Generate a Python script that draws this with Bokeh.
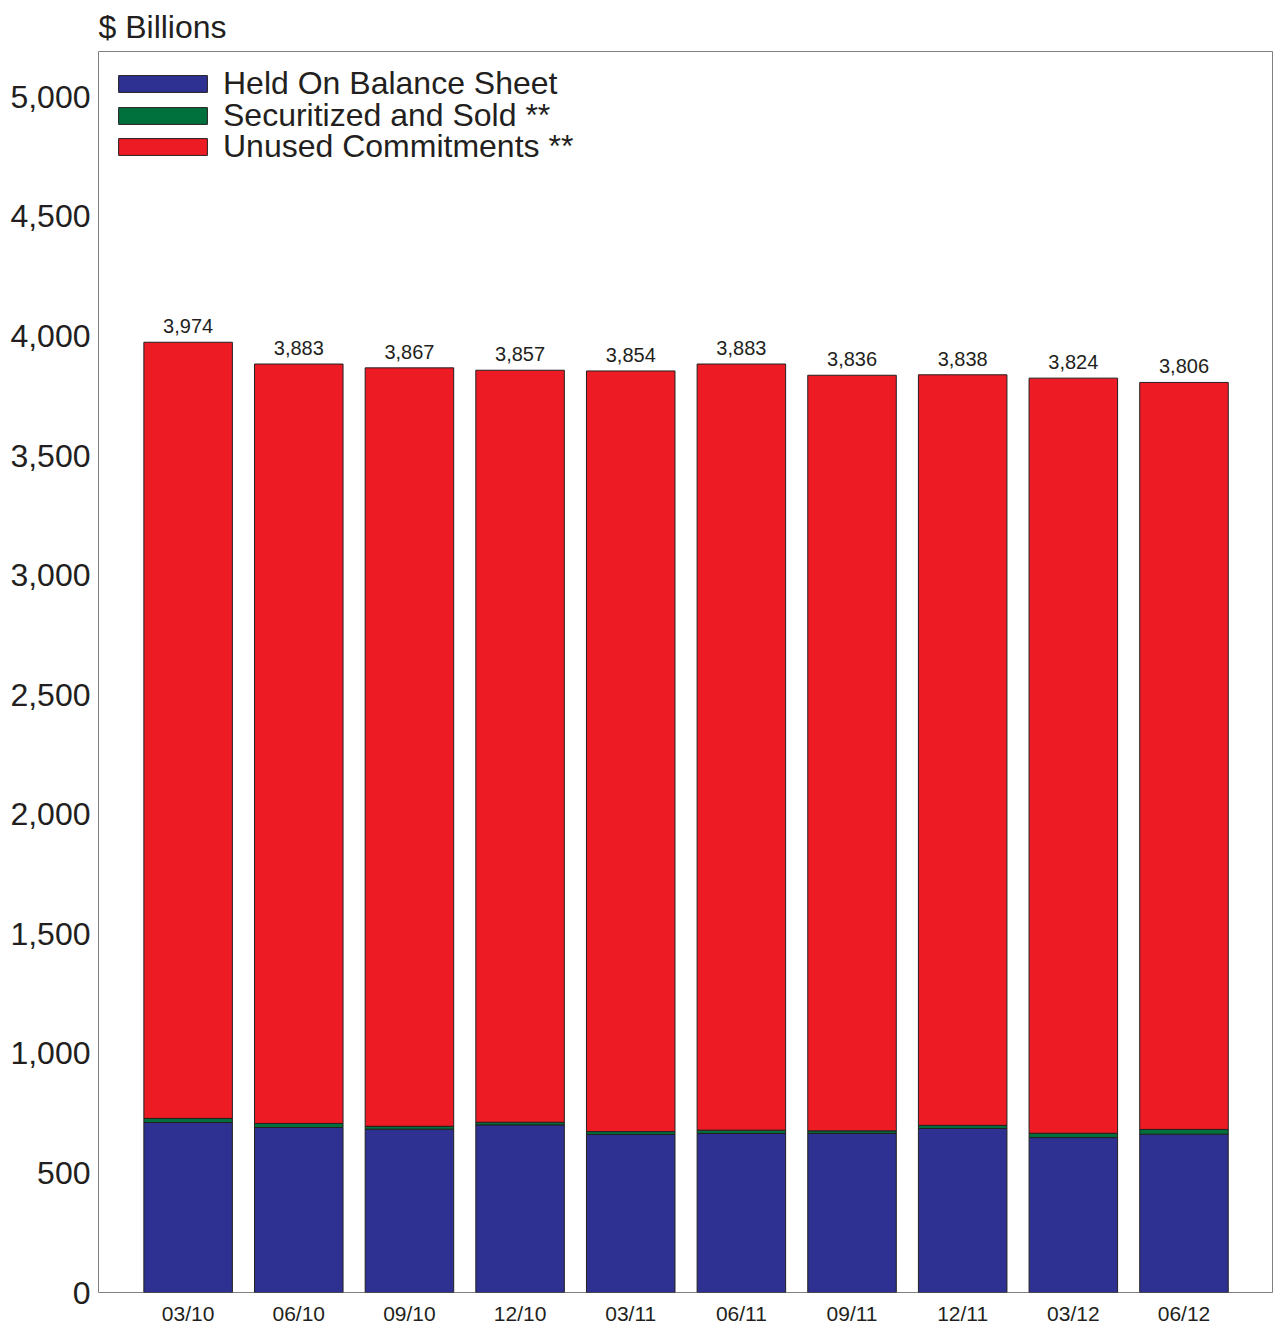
from bokeh.plotting import figure
from bokeh.models import ColumnDataSource, Range1d, FixedTicker, NumeralTickFormatter, Legend
from bokeh.embed import file_html
from bokeh.resources import INLINE
from bokeh.core.properties import value

quarters = ["03/10", "06/10", "09/10", "12/10", "03/11", "06/11", "09/11", "12/11", "03/12", "06/12"]
held = [711, 690, 683, 701, 661, 665, 665, 686, 648, 662]
securitized = [17, 17, 12, 11, 12, 14, 11, 13, 18, 20]
totals = [3974, 3883, 3867, 3857, 3854, 3883, 3836, 3838, 3824, 3806]
y_ticks = [0, 500, 1000, 1500, 2000, 2500, 3000, 3500, 4000, 4500, 5000]
series_names = ["Held On Balance Sheet", "Securitized and Sold **", "Unused Commitments **"]
series_colors = ["#2e3192", "#00703c", "#ed1c24"]

unused = [t - h - s for t, h, s in zip(totals, held, securitized)]
xs = list(range(len(quarters)))

FONT = "Liberation Sans"
TXT = "#231f20"

src = ColumnDataSource(dict(
    x=xs, held=held, sec=securitized, unused=unused, total=totals,
    label=[f"{t:,}" for t in totals],
))

p = figure(width=1273, height=1327,
           x_range=Range1d(-0.81, 9.80), y_range=Range1d(0, 5190),
           output_backend="svg", toolbar_location=None,
           min_border_left=98, min_border_right=1, min_border_top=10, min_border_bottom=34)

p.title.text = "$ Billions"
p.title.text_font = FONT
p.title.text_font_size = "32px"
p.title.text_font_style = "normal"
p.title.text_color = TXT
p.title.align = "left"
p.title.standoff = 13

renderers = p.vbar_stack(["held", "sec", "unused"], x="x", width=0.80, source=src,
                         fill_color=series_colors,
                         line_color="#231f20", line_width=1)

p.text(x="x", y="total", text="label", source=src, text_align="center",
       text_baseline="alphabetic", y_offset=-16, text_font=value(FONT),
       text_font_size="20px", text_color=TXT)

p.xgrid.visible = False
p.ygrid.visible = False
p.outline_line_color = "#808080"
p.outline_line_width = 1

p.xaxis.ticker = FixedTicker(ticks=xs)
p.xaxis.major_label_overrides = {i: q for i, q in enumerate(quarters)}
p.yaxis.ticker = FixedTicker(ticks=y_ticks)
p.yaxis.formatter = NumeralTickFormatter(format="0,0")
for ax in (p.xaxis, p.yaxis):
    ax.axis_line_color = None
    ax.major_tick_line_color = None
    ax.minor_tick_line_color = None
    ax.major_tick_out = 0
    ax.major_tick_in = 0
    ax.major_label_text_font = FONT
    ax.major_label_text_color = TXT
p.xaxis.major_label_text_font_size = "21px"
p.xaxis.major_label_standoff = 9
p.yaxis.major_label_text_font_size = "32px"
p.yaxis.major_label_standoff = 8

# one legend per series so that the rows can sit as close as in the original
legend_y = [1190, 1158, 1127]
for name, r, ly in zip(series_names, renderers, legend_y):
    lg = Legend(items=[(name, [r])], location=(9, ly))
    lg.background_fill_alpha = 0
    lg.border_line_color = None
    lg.glyph_width = 111
    lg.glyph_height = 21
    lg.label_text_font = FONT
    lg.label_text_font_size = "32px"
    lg.label_text_color = TXT
    lg.label_standoff = 5
    lg.spacing = 0
    lg.margin = 0
    lg.padding = 0
    p.add_layout(lg)

open("out.html", "w").write(file_html(p, INLINE))
